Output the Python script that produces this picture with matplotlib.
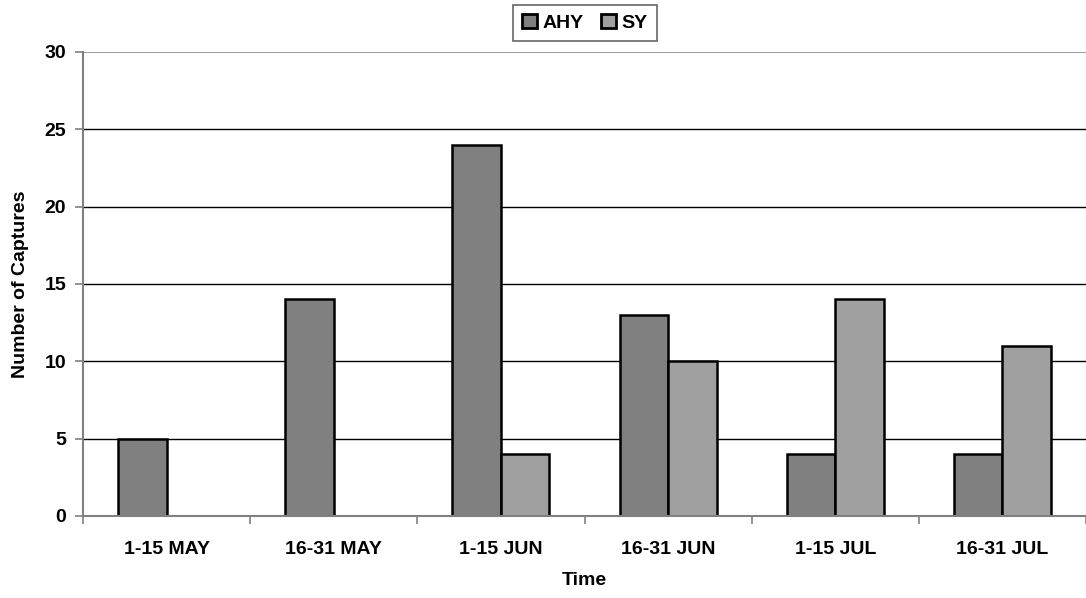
import matplotlib
matplotlib.use("Agg")
import matplotlib.pyplot as plt
import numpy as np

categories = ["1-15 MAY", "16-31 MAY", "1-15 JUN", "16-31 JUN", "1-15 JUL", "16-31 JUL"]
ahy = [5, 14, 24, 13, 4, 4]
sy = [0, 0, 4, 10, 14, 11]
y_ticks = [0, 5, 10, 15, 20, 25, 30]

plt.rcParams["font.family"] = ["Liberation Sans", "DejaVu Sans"]
plt.rcParams["font.weight"] = "bold"
FS = 14

fig = plt.figure(figsize=(10.86, 5.98), dpi=100)
ax = fig.add_axes([83 / 1086, 1 - 516 / 598, 1 - 83 / 1086, (516 - 52) / 598])

x = np.arange(len(categories))
w = 0.29
ax.bar(x - w / 2, ahy, w, color="#808080", edgecolor="black", linewidth=1.8, label="AHY", zorder=2)
ax.bar(x + w / 2, sy, w, color="#a0a0a0", edgecolor="black", linewidth=1.8, label="SY", zorder=2)

ax.set_xlim(-0.5, len(categories) - 0.5)
ax.set_ylim(0, 30)
ax.set_yticks(y_ticks)
for t in y_ticks[1:-1]:
    ax.axhline(t, color="black", linewidth=1.0, zorder=1)
ax.axhline(30, color="#a0a0a0", linewidth=1.5, zorder=1)

ax.set_xticks(x)
ax.set_xticklabels(categories, fontsize=FS, fontweight="bold")
ax.tick_params(axis="x", length=0, pad=18)
ax.set_xticks(np.arange(len(categories) + 1) - 0.5, minor=True)
ax.tick_params(axis="x", which="minor", length=6, color="#808080", width=1.2)
ax.tick_params(axis="y", length=6, color="#808080", width=1.2, labelsize=FS, pad=6)
for lab in ax.get_yticklabels():
    lab.set_fontweight("bold")

for side in ["top", "right"]:
    ax.spines[side].set_visible(False)
for side in ["left", "bottom"]:
    ax.spines[side].set_color("#808080")
    ax.spines[side].set_linewidth(1.5)
    ax.spines[side].set_zorder(4)

ax.set_xlabel("Time", fontsize=FS, fontweight="bold", labelpad=10)
ax.set_ylabel("Number of Captures", fontsize=FS, fontweight="bold", labelpad=11)

leg = fig.legend(loc="center", bbox_to_anchor=(585 / 1086, 1 - 23 / 598), ncol=2,
                 frameon=True, fancybox=False, edgecolor="#404040",
                 handlelength=0.75, handleheight=0.75, handletextpad=0.3,
                 columnspacing=0.9, borderpad=0.45, borderaxespad=0,
                 prop={"weight": "bold", "size": FS})
leg.get_frame().set_linewidth(1.2)
for h in leg.legend_handles:
    h.set_linewidth(2.0)

fig.savefig("out.png", dpi=100)
